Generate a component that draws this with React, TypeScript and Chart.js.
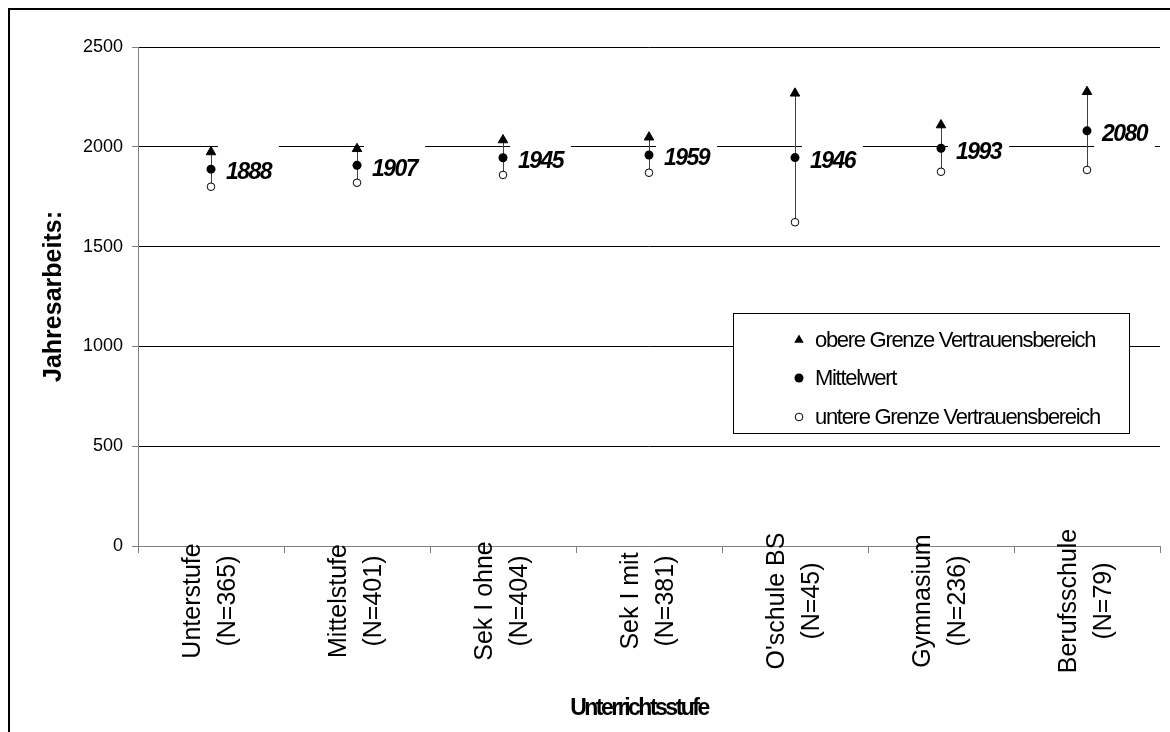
import React, { useEffect, useRef } from 'react';
import { Chart, registerables } from 'chart.js';

Chart.register(...registerables);

const categories = ['Unterstufe', 'Mittelstufe', 'Sek I ohne', 'Sek I mit', "O'schule BS", 'Gymnasium', 'Berufsschule'];
const sampleSizes = ['(N=365)', '(N=401)', '(N=404)', '(N=381)', '(N=45)', '(N=236)', '(N=79)'];
const upperBound = [1974, 1990, 2034, 2048, 2268, 2109, 2276];
const meanValue = [1888, 1907, 1945, 1959, 1946, 1993, 2080];
const lowerBound = [1800, 1820, 1859, 1870, 1622, 1875, 1884];
const yTickValues = [0, 500, 1000, 1500, 2000, 2500];
const seriesNames = ['obere Grenze Vertrauensbereich', 'Mittelwert', 'untere Grenze Vertrauensbereich'];
const xTitle = 'Unterrichtsstufe';
const yTitle = 'Jahresarbeits:';

const FONT = '"Liberation Sans", Arial, Helvetica, sans-serif';

const errorBarPlugin = {
  id: 'errorBars',
  beforeDatasetsDraw(chart: any) {
    const { ctx, scales } = chart;
    const xs = scales.x;
    const ys = scales.y;
    ctx.save();
    ctx.strokeStyle = '#404040';
    ctx.lineWidth = 1;
    categories.forEach((_, i) => {
      const x = Math.round(xs.getPixelForValue(i)) + 0.5;
      ctx.beginPath();
      ctx.moveTo(x, ys.getPixelForValue(lowerBound[i]));
      ctx.lineTo(x, ys.getPixelForValue(upperBound[i]));
      ctx.stroke();
    });
    ctx.restore();
  },
};

const valueLabelPlugin = {
  id: 'valueLabels',
  afterDatasetsDraw(chart: any) {
    const { ctx, scales } = chart;
    const xs = scales.x;
    const ys = scales.y;
    ctx.save();
    meanValue.forEach((v, i) => {
      const x = xs.getPixelForValue(i);
      const y = ys.getPixelForValue(v);
      ctx.fillStyle = '#fff';
      ctx.fillRect(x + 7, y - 30, 61, 48);
    });
    ctx.fillStyle = '#000';
    ctx.font = `italic bold 23px ${FONT}`;
    (ctx as any).letterSpacing = '-1.5px';
    ctx.textAlign = 'left';
    ctx.textBaseline = 'middle';
    meanValue.forEach((v, i) => {
      const x = xs.getPixelForValue(i);
      const y = ys.getPixelForValue(v);
      ctx.fillText(String(v), x + 15, y + 4);
    });
    (ctx as any).letterSpacing = '0px';
    ctx.restore();
  },
};

function drawMarker(ctx: CanvasRenderingContext2D, kind: number, x: number, y: number) {
  ctx.save();
  ctx.strokeStyle = '#000';
  ctx.lineWidth = 1;
  if (kind === 0) {
    const r = 5.5;
    ctx.fillStyle = '#000';
    ctx.beginPath();
    ctx.moveTo(x, y - r);
    ctx.lineTo(x + r * 0.866, y + r / 2);
    ctx.lineTo(x - r * 0.866, y + r / 2);
    ctx.closePath();
    ctx.fill();
  } else if (kind === 1) {
    ctx.fillStyle = '#000';
    ctx.beginPath();
    ctx.arc(x, y, 4.5, 0, Math.PI * 2);
    ctx.fill();
  } else {
    ctx.fillStyle = '#fff';
    ctx.beginPath();
    ctx.arc(x, y, 3.8, 0, Math.PI * 2);
    ctx.fill();
    ctx.stroke();
  }
  ctx.restore();
}

const decorPlugin = {
  id: 'decor',
  afterDraw(chart: any) {
    const { ctx, scales, chartArea } = chart;
    const xs = scales.x;
    ctx.save();

    // x category labels (two centred lines, rotated)
    ctx.fillStyle = '#000';
    ctx.font = `25px ${FONT}`;
    ctx.textAlign = 'center';
    ctx.textBaseline = 'middle';
    const labels = chart.data.labels as string[][];
    labels.forEach((lines, i) => {
      const x = xs.getPixelForValue(i);
      ctx.save();
      ctx.translate(x, chartArea.bottom + 55);
      ctx.rotate(-Math.PI / 2);
      lines.forEach((ln, j) => ctx.fillText(ln, 0, (j - 0.5) * 35));
      ctx.restore();
    });

    // x axis title
    ctx.font = `bold 23px ${FONT}`;
    (ctx as any).letterSpacing = '-2.5px';
    ctx.textAlign = 'center';
    ctx.fillText(xTitle, chartArea.left + 501, chartArea.bottom + 163);

    // legend
    const lx = chartArea.left + 595;
    const ly = chartArea.top + 266;
    const lw = 396;
    const lh = 120;
    ctx.fillStyle = '#fff';
    ctx.fillRect(lx, ly, lw, lh);
    ctx.strokeStyle = '#000';
    ctx.lineWidth = 1;
    ctx.strokeRect(lx + 0.5, ly + 0.5, lw, lh);
    ctx.font = `22px ${FONT}`;
    (ctx as any).letterSpacing = '-1.3px';
    ctx.textAlign = 'left';
    ctx.textBaseline = 'middle';
    const rows = [27, 65, 104];
    seriesNames.forEach((name, k) => {
      drawMarker(ctx, k, lx + 66, ly + rows[k]);
      ctx.fillStyle = '#000';
      ctx.fillText(name, lx + 82, ly + rows[k] + 1);
    });
    (ctx as any).letterSpacing = '0px';
    ctx.restore();
  },
};

export default function App() {
  const canvasRef = useRef<HTMLCanvasElement | null>(null);

  useEffect(() => {
    if (!canvasRef.current) return;
    Chart.defaults.font.family = FONT;
    const chart = new Chart(canvasRef.current, {
      type: 'line',
      data: {
        labels: categories.map((c, i) => [c, sampleSizes[i]]),
        datasets: [
          {
            label: seriesNames[0],
            data: upperBound,
            showLine: false,
            pointStyle: 'triangle',
            pointRadius: 5.5,
            pointBackgroundColor: '#000',
            pointBorderColor: '#000',
            pointBorderWidth: 1,
          },
          {
            label: seriesNames[1],
            data: meanValue,
            showLine: false,
            pointStyle: 'circle',
            pointRadius: 4.5,
            pointBackgroundColor: '#000',
            pointBorderColor: '#000',
            pointBorderWidth: 0,
          },
          {
            label: seriesNames[2],
            data: lowerBound,
            showLine: false,
            pointStyle: 'circle',
            pointRadius: 3.8,
            pointBackgroundColor: '#fff',
            pointBorderColor: '#000',
            pointBorderWidth: 1,
          },
        ],
      },
      options: {
        responsive: false,
        animation: false,
        devicePixelRatio: 1,
        layout: { padding: { top: 47, right: 10, bottom: 0, left: 0 } },
        plugins: {
          legend: { display: false },
          tooltip: { enabled: false },
          title: { display: false },
        },
        scales: {
          x: {
            type: 'category',
            offset: true,
            grid: {
              offset: true,
              drawOnChartArea: false,
              drawTicks: true,
              tickLength: 7,
              color: '#808080',
            },
            border: { color: '#808080', width: 1 },
            ticks: { display: false },
            afterFit: (s: any) => {
              s.height = 186;
            },
          },
          y: {
            min: 0,
            max: 2500,
            afterBuildTicks: (s: any) => {
              s.ticks = yTickValues.map((v) => ({ value: v }));
            },
            ticks: {
              font: { family: FONT, size: 18 },
              color: '#000',
              padding: 9,
              callback: (v: any) => String(v),
            },
            grid: {
              color: (c: any) => (c.tick && c.tick.value === 0 ? '#808080' : '#000'),
              tickColor: '#808080',
              tickLength: 6,
              lineWidth: 1,
            },
            border: { color: '#808080', width: 1 },
            title: {
              display: true,
              text: yTitle,
              color: '#000',
              font: { family: FONT, size: 25, weight: 'bold' },
              padding: { top: 39, bottom: 0 },
            },
            afterFit: (s: any) => {
              s.width = 138;
            },
          },
        },
      },
      plugins: [errorBarPlugin, valueLabelPlugin, decorPlugin],
    } as any);
    return () => chart.destroy();
  }, []);

  return (
    <div style={{ position: 'fixed', left: 0, top: 0, width: 1170, height: 732, overflow: 'hidden', background: '#fff' }}>
      <div
        style={{
          position: 'absolute',
          left: 8,
          top: 8,
          width: 1300,
          height: 900,
          border: '2px solid #000',
        }}
      />
      <canvas
        ref={canvasRef}
        width={1170}
        height={732}
        style={{ position: 'absolute', left: 0, top: 0, display: 'block' }}
      />
    </div>
  );
}
